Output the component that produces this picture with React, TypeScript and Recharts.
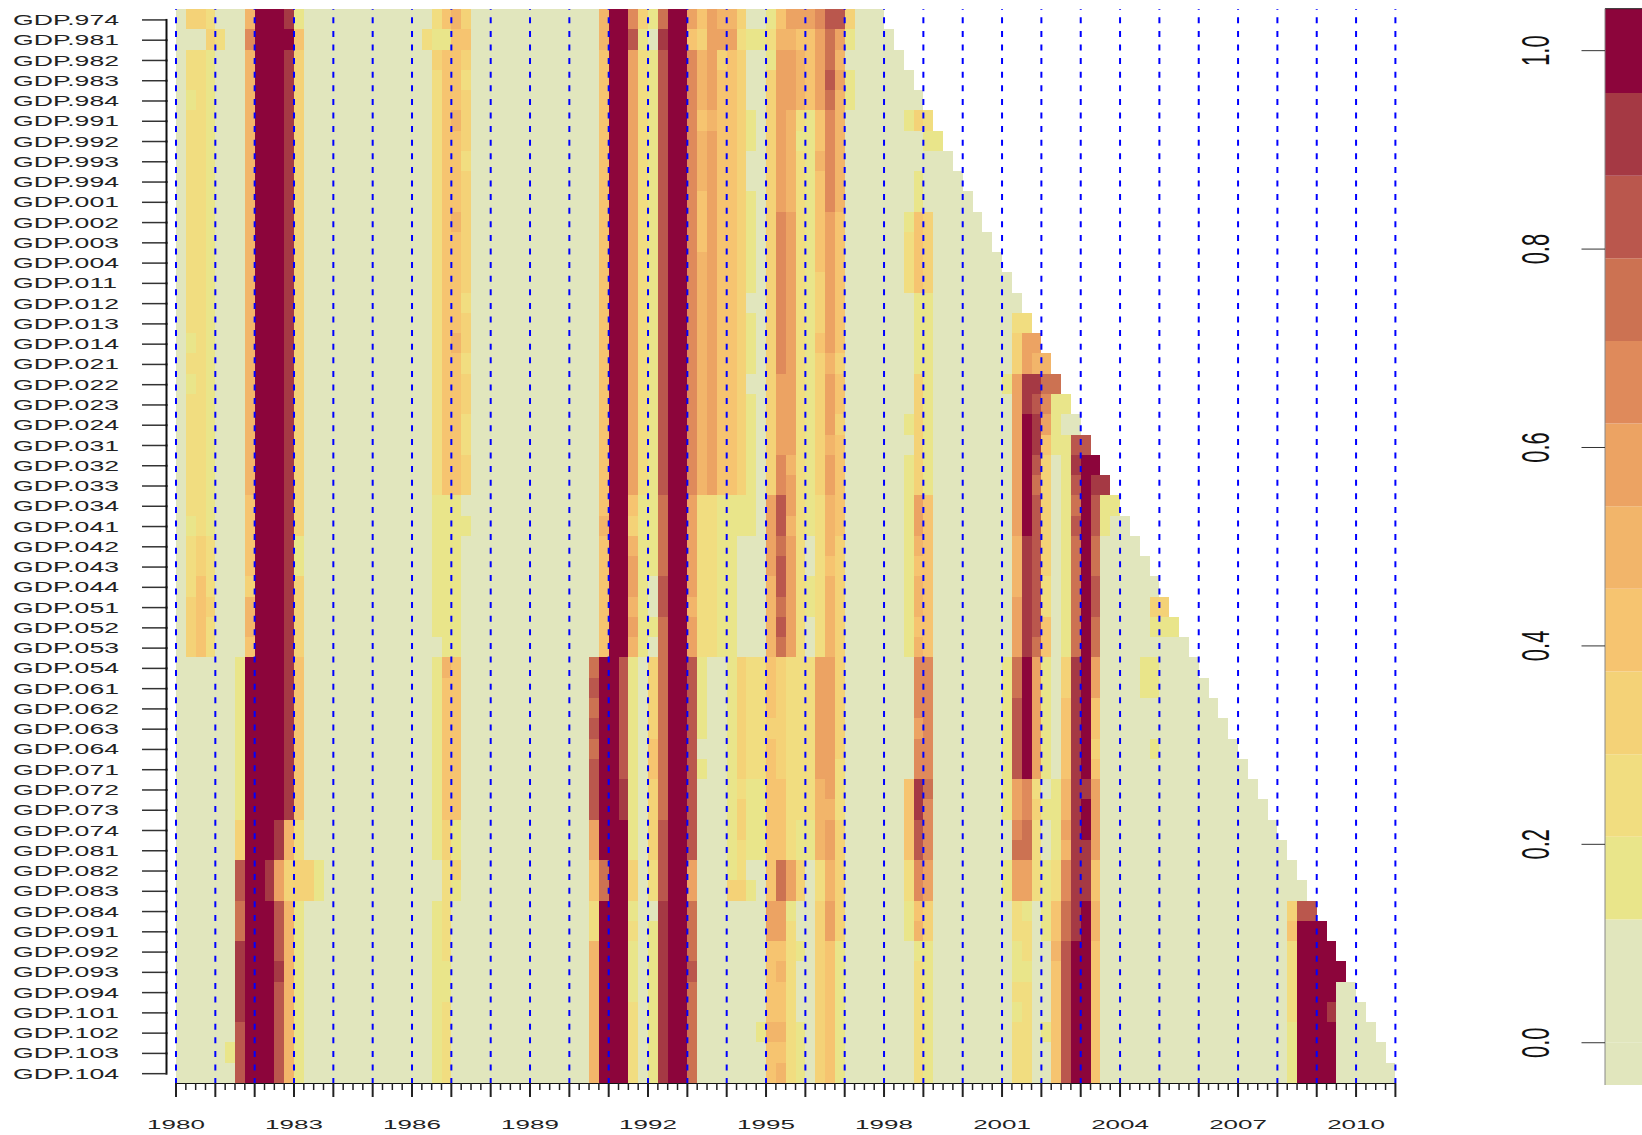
import React from 'react';
import {
  Bar,
  BarChart,
  ReferenceLine,
  Scatter,
  ScatterChart,
  XAxis,
  YAxis,
} from 'recharts';

const FONT = '"Liberation Sans", Arial, sans-serif';

const vintageLabels = [
  'GDP.974', 'GDP.981', 'GDP.982', 'GDP.983', 'GDP.984', 'GDP.991', 'GDP.992', 'GDP.993', 'GDP.994',
  'GDP.001', 'GDP.002', 'GDP.003', 'GDP.004', 'GDP.011', 'GDP.012', 'GDP.013', 'GDP.014', 'GDP.021',
  'GDP.022', 'GDP.023', 'GDP.024', 'GDP.031', 'GDP.032', 'GDP.033', 'GDP.034', 'GDP.041', 'GDP.042',
  'GDP.043', 'GDP.044', 'GDP.051', 'GDP.052', 'GDP.053', 'GDP.054', 'GDP.061', 'GDP.062', 'GDP.063',
  'GDP.064', 'GDP.071', 'GDP.072', 'GDP.073', 'GDP.074', 'GDP.081', 'GDP.082', 'GDP.083', 'GDP.084',
  'GDP.091', 'GDP.092', 'GDP.093', 'GDP.094', 'GDP.101', 'GDP.102', 'GDP.103', 'GDP.104',
];

// quarters of history available in each vintage
const vintageQuarters = [
  72, 73, 74, 75, 76, 77, 78, 79, 80, 81, 82, 83, 84, 85, 86, 87, 88, 89, 90, 91, 92, 93, 94, 95, 96, 97,
  98, 99, 100, 101, 102, 103, 104, 105, 106, 107, 108, 109, 110, 111, 112, 113, 114, 115, 116, 117, 118,
  119, 120, 121, 122, 123, 124,
];

const years = [
  1980, 1981, 1982, 1983, 1984, 1985, 1986, 1987, 1988, 1989, 1990, 1991, 1992, 1993, 1994, 1995, 1996,
  1997, 1998, 1999, 2000, 2001, 2002, 2003, 2004, 2005, 2006, 2007, 2008, 2009, 2010, 2011,
];
const yearLabels = [1980, 1983, 1986, 1989, 1992, 1995, 1998, 2001, 2004, 2007, 2010];

const levelColors = [
  '#e1e6bd', '#e9e58a', '#f1dd80', '#f4d277', '#f6c470', '#f2b56a',
  '#eca363', '#df8a5b', '#cc7252', '#ba574d', '#a53944', '#8c053b',
];
const colorbarTicks = [0, 0.2, 0.4, 0.6, 0.8, 1];
const colorbarEdges = [-0.0426, 0.1243, 0.2076, 0.2909, 0.3742, 0.4575, 0.5408, 0.6241, 0.7074, 0.7907, 0.874, 0.9573, 1.0423];

// per quarter column: [first vintage row, colour level, ...]; level holds until the next pair, absent = 0
const columnBreaks: Record<number, number[]> = {
  1: [0, 3, 1, 0, 2, 2, 4, 1, 5, 2, 16, 1, 17, 2, 18, 1, 19, 2, 25, 1, 26, 2, 29, 3, 32, 0],
  2: [0, 3, 1, 0, 2, 2, 26, 3, 28, 4, 32, 0],
  3: [0, 2, 1, 3, 2, 1, 26, 2, 29, 3, 30, 2, 32, 0],
  4: [1, 2, 2, 0],
  5: [51, 1, 52, 0],
  6: [32, 1, 40, 3, 42, 9, 44, 8, 46, 10, 50, 9],
  7: [0, 5, 1, 7, 2, 5, 24, 4, 28, 3, 29, 5, 31, 4, 32, 11],
  8: [0, 11],
  9: [0, 11, 42, 10, 44, 11],
  10: [0, 11, 40, 10, 42, 6, 44, 9, 47, 10, 48, 9],
  11: [0, 10, 1, 11, 2, 10, 40, 5, 42, 3, 44, 5],
  12: [0, 1, 1, 4, 2, 3, 26, 1, 28, 3, 32, 4, 40, 2, 42, 3, 44, 1],
  13: [42, 3, 44, 0],
  14: [42, 1, 44, 0],
  25: [1, 2, 2, 0],
  26: [0, 2, 1, 1, 2, 3, 3, 2, 24, 1, 31, 0, 32, 1, 42, 0, 44, 1],
  27: [0, 4, 1, 1, 2, 4, 24, 1, 32, 5, 33, 4, 40, 3, 42, 2, 47, 1, 49, 2],
  28: [0, 5, 1, 4, 5, 5, 6, 4, 10, 5, 11, 4, 16, 5, 17, 4, 24, 1, 32, 4, 40, 1, 42, 3, 43, 1, 44, 0],
  29: [0, 3, 1, 4, 2, 3, 3, 2, 4, 3, 7, 2, 8, 3, 14, 2, 15, 3, 17, 2, 18, 3, 20, 2, 22, 3, 24, 0, 25, 1, 26, 0],
  42: [32, 8, 33, 9, 34, 8, 35, 9, 36, 8, 37, 9, 40, 6, 42, 4, 44, 2, 46, 5],
  43: [0, 5, 2, 4, 25, 5, 26, 4, 32, 11, 42, 8, 44, 11],
  44: [0, 11],
  45: [0, 11, 32, 9, 38, 10, 40, 11],
  46: [0, 7, 1, 9, 2, 6, 24, 4, 25, 3, 26, 5, 27, 6, 29, 5, 30, 6, 31, 5, 32, 1, 42, 3, 44, 1, 45, 2, 46, 1, 49, 2],
  47: [0, 3, 1, 1, 2, 2, 24, 1, 32, 0],
  48: [0, 1, 1, 0, 2, 1, 28, 0, 30, 1, 31, 0, 32, 3, 36, 4, 38, 3, 42, 2, 44, 0, 45, 1],
  49: [0, 8, 1, 10, 2, 9, 24, 8, 28, 9, 30, 8, 40, 9, 44, 10],
  50: [0, 11],
  51: [0, 11],
  52: [0, 6, 1, 4, 2, 7, 24, 6, 29, 5, 30, 6, 32, 9, 42, 6, 44, 8, 47, 9, 48, 8],
  53: [0, 4, 1, 3, 2, 5, 5, 4, 6, 5, 9, 4, 12, 5, 24, 2, 32, 1, 36, 0, 37, 1, 38, 0],
  54: [0, 6, 5, 5, 6, 6, 24, 2, 32, 0],
  55: [0, 5, 1, 6, 2, 3, 3, 4, 24, 1, 32, 0],
  56: [0, 5, 1, 6, 2, 4, 24, 1, 43, 3, 44, 0],
  57: [0, 3, 1, 2, 2, 3, 24, 1, 26, 0, 32, 3, 38, 2, 39, 3, 41, 2, 43, 3, 44, 0],
  58: [1, 1, 2, 0, 5, 1, 7, 0, 9, 1, 14, 0, 15, 1, 18, 0, 19, 1, 26, 0, 32, 2, 38, 1, 42, 0, 43, 1, 44, 0],
  59: [1, 1, 2, 0, 32, 2, 38, 1, 42, 0, 50, 1, 51, 0],
  60: [0, 1, 1, 2, 2, 1, 3, 3, 24, 6, 28, 5, 32, 4, 35, 3, 36, 4, 44, 6, 46, 4, 50, 5, 51, 4],
  61: [0, 4, 1, 5, 2, 6, 10, 7, 18, 6, 22, 7, 24, 9, 26, 8, 27, 9, 29, 8, 30, 9, 31, 8, 32, 3, 38, 4, 42, 8, 44, 6, 46, 4, 47, 5, 48, 4, 50, 5, 51, 4, 52, 5],
  62: [0, 6, 1, 5, 2, 6, 5, 5, 10, 6, 22, 5, 23, 6, 25, 5, 26, 6, 32, 2, 42, 6, 44, 1, 45, 2],
  63: [0, 6, 1, 4, 2, 5, 5, 2, 6, 1, 7, 2, 40, 1, 42, 3, 44, 0, 46, 1, 47, 0, 50, 1],
  64: [0, 6, 1, 4, 5, 1, 26, 0, 28, 1, 30, 0, 32, 2, 40, 1, 42, 0],
  65: [0, 7, 1, 6, 5, 4, 7, 5, 8, 4, 13, 3, 16, 4, 17, 3, 24, 2, 32, 6, 38, 5, 42, 2, 44, 3],
  66: [0, 9, 1, 8, 3, 9, 4, 8, 5, 7, 10, 6, 17, 5, 18, 6, 21, 5, 22, 6, 24, 5, 27, 4, 28, 5, 32, 6, 39, 5, 40, 6, 42, 5, 44, 6, 46, 4],
  67: [0, 9, 1, 6, 2, 5, 3, 6, 4, 5, 10, 4, 17, 3, 18, 4, 20, 3, 21, 4, 26, 3, 37, 2, 40, 3, 46, 1],
  68: [0, 3, 1, 1, 2, 0, 3, 1, 5, 0],
  74: [5, 1, 6, 0, 10, 1, 11, 2, 14, 0, 20, 1, 21, 0, 22, 1, 32, 0, 38, 4, 42, 2, 44, 1, 46, 0],
  75: [5, 3, 6, 0, 8, 1, 10, 4, 14, 1, 18, 3, 24, 6, 26, 5, 27, 4, 28, 5, 30, 4, 31, 5, 32, 7, 35, 6, 36, 7, 38, 10, 40, 9, 42, 7, 44, 4, 45, 5, 46, 1, 47, 2],
  76: [5, 2, 6, 1, 7, 0, 10, 3, 14, 1, 24, 4, 32, 7, 38, 8, 39, 7, 42, 6, 44, 3, 46, 1],
  77: [6, 1, 7, 0],
  84: [18, 1, 19, 0, 32, 1, 40, 0, 42, 1, 44, 0],
  85: [15, 2, 16, 3, 18, 6, 26, 5, 29, 6, 32, 8, 34, 9, 38, 6, 40, 7, 41, 8, 42, 6, 44, 2, 46, 1, 48, 2, 49, 1, 50, 2],
  86: [15, 2, 16, 6, 18, 10, 20, 11, 26, 10, 32, 11, 38, 7, 40, 8, 42, 6, 44, 1, 45, 2, 47, 1, 48, 2],
  87: [16, 6, 17, 5, 18, 10, 19, 9, 20, 10, 22, 9, 23, 8, 24, 9, 31, 8, 32, 6, 38, 2, 39, 3, 40, 2, 44, 0],
  88: [17, 5, 18, 8, 19, 7, 20, 6, 21, 4, 22, 3, 28, 2, 30, 4, 32, 1, 38, 0, 39, 1, 40, 0, 42, 1, 46, 0, 50, 1, 51, 0],
  89: [18, 8, 19, 1, 22, 0, 38, 1, 42, 2, 44, 4, 46, 5, 47, 4],
  90: [19, 1, 20, 0, 21, 1, 32, 3, 34, 4, 38, 5, 40, 6, 41, 5, 42, 7, 44, 8, 46, 9],
  91: [21, 9, 22, 10, 23, 9, 24, 8, 25, 9, 26, 8, 32, 10, 46, 11],
  92: [21, 9, 22, 11, 38, 10, 39, 11, 41, 10, 44, 11],
  93: [22, 11, 23, 10, 24, 9, 26, 8, 28, 9, 30, 8, 32, 6, 34, 4, 36, 3, 37, 4, 38, 6, 42, 4, 44, 5, 46, 4],
  94: [23, 10, 24, 1, 26, 0],
  95: [24, 1, 25, 0],
  98: [32, 1, 34, 0],
  99: [29, 3, 30, 1, 31, 0, 32, 1, 34, 0, 36, 1, 37, 0],
  100: [29, 3, 30, 1, 31, 0],
  101: [30, 1, 31, 0],
  113: [44, 3, 45, 4, 46, 2, 50, 1],
  114: [44, 9, 45, 11],
  115: [44, 9, 45, 11],
  116: [45, 11],
  117: [46, 11, 49, 10, 50, 11],
  118: [47, 11, 48, 0],
};

const levelAt = (row: number, col: number) => {
  const pairs = columnBreaks[col] || [];
  let level = 0;
  for (let i = 0; i < pairs.length; i += 2) {
    if (pairs[i] <= row) level = pairs[i + 1];
  }
  return level;
};

const cells: { x: number; y: number; level: number }[] = [];
vintageQuarters.forEach((n, row) => {
  for (let col = 0; col < n; col++) {
    cells.push({ x: 1980 + (col + 0.5) / 4, y: row, level: levelAt(row, col) });
  }
});
const cellsByLevel = levelColors.map((_, level) => cells.filter((c) => c.level === level));

const rowTicks = vintageLabels.map((_, i) => i);
const quarterTicks = years.flatMap((y) =>
  y === 2011 ? [y] : [y, y + 0.25, y + 0.5, y + 0.75],
);

const colorbarRow: Record<string, number | string> = { name: 'scale', below: colorbarEdges[0] };
levelColors.forEach((_, i) => {
  colorbarRow['l' + i] = i === 0 ? colorbarEdges[1] : colorbarEdges[i + 1] - colorbarEdges[i];
});
const colorbarData = [colorbarRow];

const CHART_W = 1642;
const CHART_H = 1135;
const PLOT_LEFT = 176;
const PLOT_TOP = 9;
const PLOT_BOTTOM = 1083;
const PLOT_RIGHT = 1395.4;
const CELL_W = (PLOT_RIGHT - PLOT_LEFT) / 124;
const CELL_H = (PLOT_BOTTOM - PLOT_TOP) / 53;
const BAR_CHART_LEFT = 1500;

const HeatCell = (props: any) => (
  <rect
    x={props.cx - CELL_W / 2}
    y={props.cy - CELL_H / 2}
    width={CELL_W}
    height={CELL_H}
    fill={props.fill}
    shapeRendering="crispEdges"
  />
);

const NoPoint = () => null;

const VintageTick = (props: any) => {
  const { y, payload } = props;
  const row = payload.value;
  const ty = y + 0.8;
  return (
    <g>
      <line x1={142} x2={166.5} y1={ty} y2={ty} stroke="#333" strokeWidth={1.5} />
      {row < vintageLabels.length - 1 && (
        <line x1={166.5} x2={166.5} y1={ty - 1} y2={ty + CELL_H + 1} stroke="#111" strokeWidth={2} />
      )}
      <text
        transform={`translate(13,${ty}) scale(1.9,1)`}
        dy="0.36em"
        fontFamily={FONT}
        fontSize={14}
        fill="#222"
      >
        {vintageLabels[row]}
      </text>
    </g>
  );
};

const QuarterTick = (props: any) => {
  const { x, payload } = props;
  const value = payload.value;
  const major = Number.isInteger(value);
  return (
    <g>
      <line
        x1={x}
        x2={x}
        y1={PLOT_BOTTOM}
        y2={PLOT_BOTTOM + (major ? 14 : 7)}
        stroke="#222"
        strokeWidth={major ? 2 : 1.5}
      />
      {yearLabels.includes(value) && (
        <text
          transform={`translate(${x},1124) scale(2,1)`}
          dy="0.36em"
          textAnchor="middle"
          fontFamily={FONT}
          fontSize={13}
          fill="#222"
        >
          {value}
        </text>
      )}
    </g>
  );
};

const ColorbarTick = (props: any) => {
  const { y, payload } = props;
  return (
    <g>
      <line x1={1581.5 - BAR_CHART_LEFT} x2={1605 - BAR_CHART_LEFT} y1={y} y2={y} stroke="#333" strokeWidth={1} />
      <text
        transform={`translate(${1535 - BAR_CHART_LEFT},${y}) rotate(-90) scale(1,1.78)`}
        dy="0.36em"
        textAnchor="middle"
        fontFamily={FONT}
        fontSize={22}
        fill="#111"
      >
        {payload.value.toFixed(1)}
      </text>
    </g>
  );
};

const App = () => {
  return (
    <div style={{ position: 'absolute', left: 0, top: 0, width: CHART_W, height: CHART_H, background: '#fff' }}>
      <div style={{ position: 'absolute', left: 0, top: 0 }}>
        <ScatterChart
          width={CHART_W}
          height={CHART_H}
          margin={{ top: PLOT_TOP, right: CHART_W - PLOT_RIGHT, bottom: 0, left: 0 }}
        >
          <XAxis
            type="number"
            dataKey="x"
            domain={[1980, 2011]}
            ticks={quarterTicks}
            interval={0}
            height={CHART_H - PLOT_BOTTOM}
            tick={<QuarterTick />}
            tickLine={false}
            axisLine={{ stroke: '#111', strokeWidth: 2 }}
          />
          <YAxis
            type="number"
            dataKey="y"
            reversed
            domain={[-0.5, 52.5]}
            ticks={rowTicks}
            interval={0}
            width={PLOT_LEFT}
            tick={<VintageTick />}
            tickLine={false}
            axisLine={false}
          />
          {cellsByLevel.map((data, level) => (
            <Scatter
              key={level}
              data={data}
              fill={levelColors[level]}
              shape={<HeatCell />}
              isAnimationActive={false}
            />
          ))}
          {/* the dashed year lines are two-point series so they paint over the cells */}
          {years.map((year) => (
            <Scatter
              key={year}
              data={[{ x: year, y: -0.5 }, { x: year, y: 52.5 }]}
              fill="#0000ff"
              line={{ stroke: '#0000ff', strokeWidth: 2, strokeDasharray: '6 7.6', strokeDashoffset: 5.3 }}
              shape={<NoPoint />}
              isAnimationActive={false}
            />
          ))}
        </ScatterChart>
      </div>
      <div style={{ position: 'absolute', left: BAR_CHART_LEFT, top: 0 }}>
        <BarChart
          width={CHART_W - BAR_CHART_LEFT}
          height={CHART_H}
          data={colorbarData}
          stackOffset="sign"
          barCategoryGap={0}
          margin={{ top: 8.7, right: 0, bottom: 50, left: 0 }}
        >
          <XAxis dataKey="name" hide />
          <YAxis
            type="number"
            domain={[colorbarEdges[0], colorbarEdges[colorbarEdges.length - 1]]}
            ticks={colorbarTicks}
            interval={0}
            width={105}
            tick={<ColorbarTick />}
            tickLine={false}
            axisLine={{ stroke: '#888', strokeWidth: 1 }}
          />
          <Bar dataKey="below" stackId="scale" fill={levelColors[0]} isAnimationActive={false} />
          {levelColors.map((color, i) => (
            <Bar key={i} dataKey={'l' + i} stackId="scale" fill={color} isAnimationActive={false} />
          ))}
          <ReferenceLine y={colorbarEdges[colorbarEdges.length - 1]} stroke="#222" strokeWidth={1} />
        </BarChart>
      </div>
    </div>
  );
};

export default App;
